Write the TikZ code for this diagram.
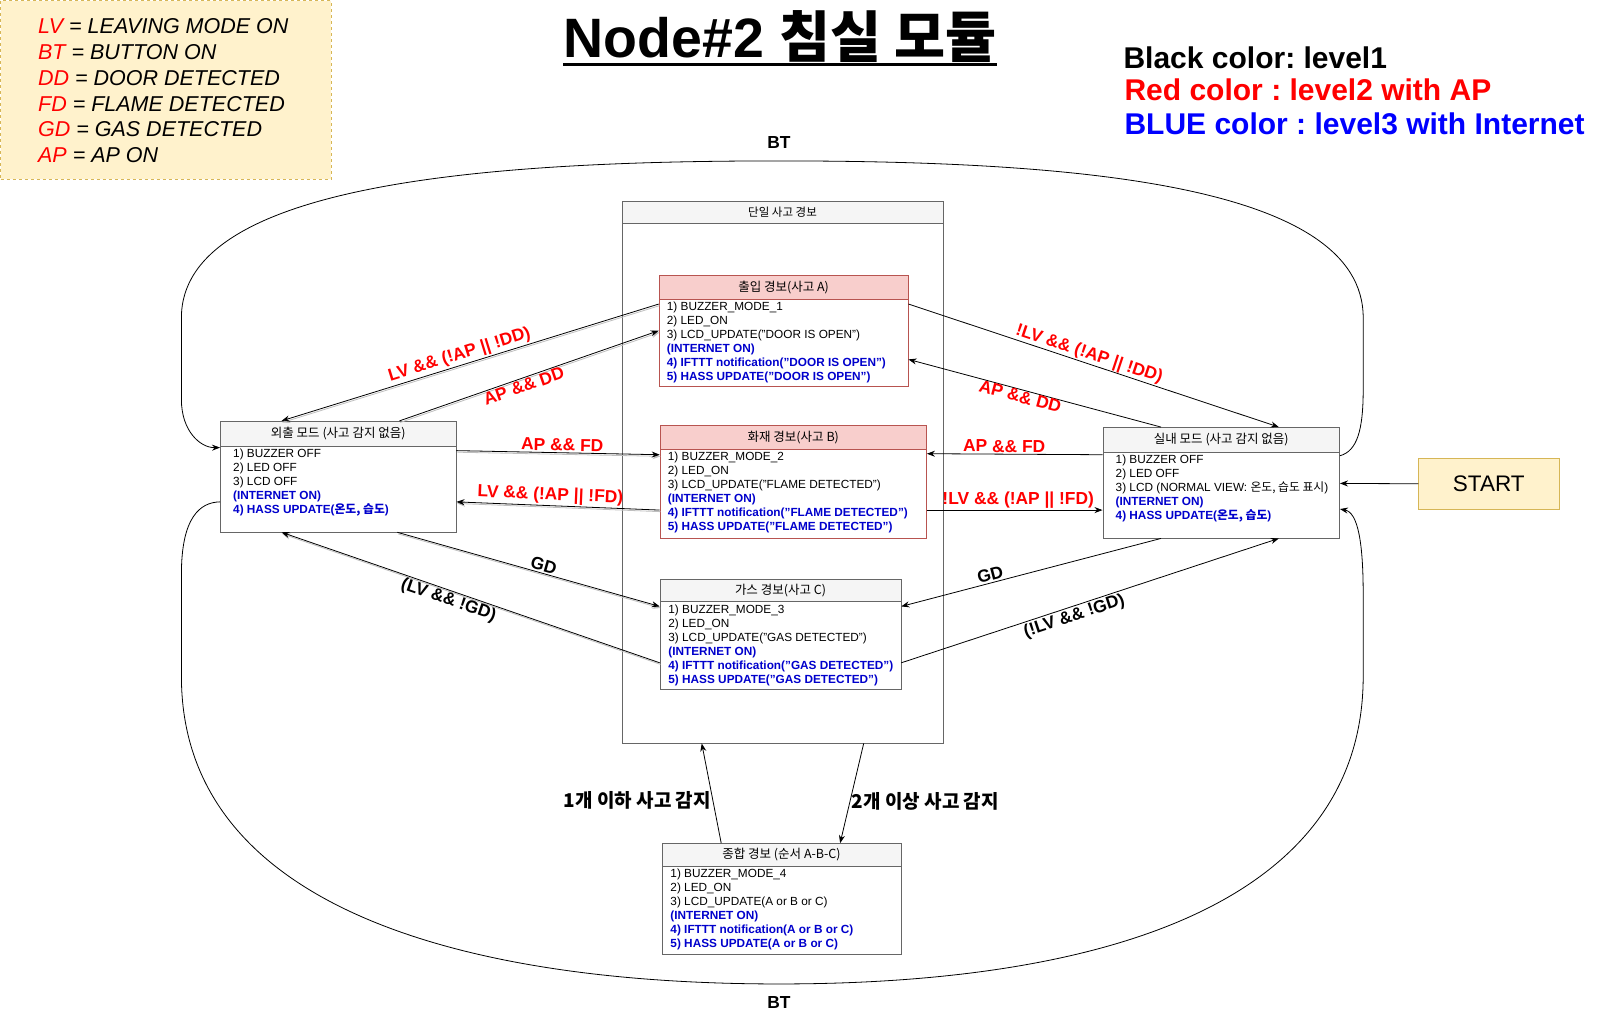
\documentclass[tikz,border=0pt]{standalone}
\usepackage{fontspec}
\setmainfont{Liberation Sans}
\newfontfamily\kr{Noto Sans CJK KR}
\usetikzlibrary{arrows.meta,fit,calc}
\frenchspacing

\definecolor{boxgray}{HTML}{666666}
\definecolor{headgray}{HTML}{F5F5F5}
\definecolor{alarmline}{HTML}{B85450}
\definecolor{alarmpink}{HTML}{F8CECC}
\definecolor{notepaper}{HTML}{FFF2CC}
\definecolor{noteline}{HTML}{D6B656}
\definecolor{netblue}{HTML}{0000CC}
\definecolor{labelred}{HTML}{FF0000}
\definecolor{legendblue}{HTML}{0000FF}

\newcommand{\inet}[1]{{\color{netblue}\bfseries #1}}
\newcommand{\abbr}[2]{{\color{labelred}#1} = #2}
\newcommand{\stateBox}[9]{
    \node[fit={(#2,#3) (#4,#5)}, #7body] (#1) {};
    \node[fit={(#2,#3) (#4,#6)}, #7head] (#1H) {};
    \node[headtext] (#1L) at (#1H.center) {#8};
    \node[#7text, anchor=north west] (#1T) at (#1H.south west) {#9};
}

\begin{document}
\begin{tikzpicture}[x=1.025pt, y=-1.025pt,
    boxbody/.style={draw=boxgray, fill=white, inner sep=0pt, line width=0.7pt},
    headtext/.style={font=\kr\fontsize{12.5}{12.5}\selectfont, inner sep=0pt},
    bodytext/.style={font=\fontsize{11.8}{14}\selectfont, align=left, inner sep=0pt},
    modebody/.style={boxbody},
    modehead/.style={boxbody, fill=headgray},
    modetext/.style={bodytext, xshift=13pt, yshift=-2.5pt},
    alarmbody/.style={boxbody, draw=alarmline},
    alarmhead/.style={alarmbody, fill=alarmpink},
    alarmtext/.style={bodytext, xshift=8pt, yshift=-2.5pt},
    plainbody/.style={boxbody},
    plainhead/.style={boxbody, fill=headgray},
    plaintext/.style={bodytext, xshift=8.5pt, yshift=-2.5pt},
    edge/.style={-{Stealth[length=8pt,width=6pt]}, line width=0.8pt},
    shadowed/.style={preaction={draw=black!25, line width=0.8pt, transform canvas={shift={(0.8pt,-1.6pt)}}}},
    redlab/.style={font=\fontsize{17.4}{17.4}\selectfont\bfseries, text=labelred, inner sep=1.5pt},
    blacklab/.style={font=\fontsize{17.4}{17.4}\selectfont\bfseries, inner sep=1.5pt},
    krlab/.style={font=\kr\fontsize{19}{19}\selectfont\bfseries, inner sep=1.5pt},
    btlab/.style={font=\fontsize{17.4}{17.4}\selectfont\bfseries, inner sep=0pt}
]
\useasboundingbox (0,0) rectangle (1563,986.3);

% Legend and title
\node[fit={(0.5,0.5) (323,175)}, draw=noteline, fill=notepaper, dashed, inner sep=0pt] (legend) {};
\node[anchor=north west, align=left, inner sep=0pt, font=\fontsize{21.5}{25.8}\selectfont\itshape] (legendT) at (37,18)
    {\abbr{LV}{LEAVING MODE ON}\\\abbr{BT}{BUTTON ON}\\\abbr{DD}{DOOR DETECTED}\\\abbr{FD}{FLAME DETECTED}\\\abbr{GD}{GAS DETECTED}\\\abbr{AP}{AP ON}};
\node[anchor=base, inner sep=0pt, font=\fontsize{55.5}{55.5}\selectfont\bfseries] (title) at (761,56) {Node\#2 {\kr 침실 모듈}};
\draw[line width=3pt] ($(title.base west)+(0,7)$) -- ($(title.base east)+(0,7)$);
\node[anchor=base west, inner sep=0pt, font=\fontsize{30}{30}\selectfont\bfseries] (lvlA) at (1096,67) {Black color: level1};
\node[anchor=base west, inner sep=0pt, font=\fontsize{30}{30}\selectfont\bfseries, text=labelred] (lvlB) at (1097,98) {Red color : level2 with AP};
\node[anchor=base west, inner sep=0pt, font=\fontsize{30}{30}\selectfont\bfseries, text=legendblue] (lvlC) at (1097,131) {BLUE color : level3 with Internet};

% Single accident container
\node[fit={(607,196) (920,725)}, boxbody] (single) {};
\node[fit={(607,196) (920,218)}, boxbody, fill=headgray] (singleH) {};
\node[headtext, font=\kr\fontsize{11.5}{11.5}\selectfont] (singleL) at (singleH.center) {단일 사고 경보};

% Mode boxes
\stateBox{away}{215}{411}{445}{519}{435}{mode}{외출 모드 (사고 감지 없음)}
    {1) BUZZER OFF\\2) LED OFF\\3) LCD OFF\\\inet{(INTERNET ON)}\\\inet{4) HASS UPDATE({\kr 온도, 습도})}}
\stateBox{home}{1076}{417}{1307}{525}{441}{mode}{실내 모드 (사고 감지 없음)}
    {1) BUZZER OFF\\2) LED OFF\\3) LCD (NORMAL VIEW: {\kr 온도, 습도 표시})\\\inet{(INTERNET ON)}\\\inet{4) HASS UPDATE({\kr 온도, 습도})}}

% Accident boxes
\stateBox{door}{643}{269}{886}{377}{292}{alarm}{출입 경보(사고 A)}
    {1) BUZZER\_MODE\_1\\2) LED\_ON\\3) LCD\_UPDATE("DOOR IS OPEN")\\\inet{(INTERNET ON)}\\\inet{4) IFTTT notification("DOOR IS OPEN")}\\\inet{5) HASS UPDATE("DOOR IS OPEN")}}
\stateBox{fire}{644}{415}{904}{525}{438}{alarm}{화재 경보(사고 B)}
    {1) BUZZER\_MODE\_2\\2) LED\_ON\\3) LCD\_UPDATE("FLAME DETECTED")\\\inet{(INTERNET ON)}\\\inet{4) IFTTT notification("FLAME DETECTED")}\\\inet{5) HASS UPDATE("FLAME DETECTED")}}
\stateBox{gas}{644}{565}{879}{673}{587}{plain}{가스 경보(사고 C)}
    {1) BUZZER\_MODE\_3\\2) LED\_ON\\3) LCD\_UPDATE("GAS DETECTED")\\\inet{(INTERNET ON)}\\\inet{4) IFTTT notification("GAS DETECTED")}\\\inet{5) HASS UPDATE("GAS DETECTED")}}
\stateBox{multi}{646}{823}{879}{931}{845}{plain}{종합 경보 (순서 A-B-C)}
    {1) BUZZER\_MODE\_4\\2) LED\_ON\\3) LCD\_UPDATE(A or B or C)\\\inet{(INTERNET ON)}\\\inet{4) IFTTT notification(A or B or C)}\\\inet{5) HASS UPDATE(A or B or C)}}

% Start
\node[fit={(1384,447) (1521,497)}, draw=noteline, fill=notepaper, inner sep=0pt] (start) {};
\node[inner sep=0pt, font=\fontsize{22.5}{22.5}\selectfont] (startL) at (start.center) {START};
\draw[edge] (start.west) -- ($(home.north east)+(0,55)$);

% Away side transitions
\draw[edge, shadowed] ($(door.north west)+(0,28)$) -- node[redlab, sloped, above, pos=0.52] {LV \&\& (!AP || !DD)} ($(away.north west)+(60,0)$);
\draw[edge, shadowed] ($(away.north west)+(175,0)$) -- node[redlab, sloped, below, pos=0.47] {AP \&\& DD} ($(door.north west)+(0,54)$);
\draw[edge, shadowed] ($(away.north east)+(0,29)$) -- node[redlab, sloped, above, pos=0.52] {AP \&\& FD} ($(fire.north west)+(0,29)$);
\draw[edge, shadowed] ($(fire.north west)+(0,83)$) -- node[redlab, sloped, above, pos=0.54] {LV \&\& (!AP || !FD)} ($(away.north east)+(0,79)$);
\draw[edge, shadowed] ($(away.south west)+(173,0)$) -- node[blacklab, sloped, above, pos=0.55] {GD} ($(gas.north west)+(0,27)$);
\draw[edge, shadowed] ($(gas.north west)+(0,82)$) -- node[blacklab, sloped, below, pos=0.55] {(LV \&\& !GD)} ($(away.south west)+(60,0)$);

% Home side transitions
\draw[edge] ($(door.north east)+(0,28)$) -- node[redlab, sloped, above, pos=0.48, inner sep=0.5pt] {!LV \&\& (!AP || !DD)} ($(home.north west)+(172,0)$);
\draw[edge] ($(home.north west)+(57,0)$) -- node[redlab, sloped, below, pos=0.55, inner sep=0.5pt] {AP \&\& DD} ($(door.north east)+(0,82)$);
\draw[edge] ($(home.north west)+(0,27)$) -- node[redlab, sloped, above, pos=0.56] {AP \&\& FD} ($(fire.north east)+(0,28)$);
\draw[edge] ($(fire.north east)+(0,83)$) -- node[redlab, sloped, above, pos=0.52] {!LV \&\& (!AP || !FD)} ($(home.north west)+(0,81)$);
\draw[edge] ($(home.south west)+(57,0)$) -- node[blacklab, sloped, above, pos=0.65] {GD} ($(gas.north east)+(0,27)$);
\draw[edge] ($(gas.north east)+(0,82)$) -- node[blacklab, sloped, below, pos=0.45] {(!LV \&\& !GD)} ($(home.south west)+(172,0)$);

% Single / multi accident
\draw[edge] ($(single.south west)+(236,0)$) -- node[krlab, right, pos=0.58] {2개 이상 사고 감지} ($(multi.north west)+(174,0)$);
\draw[edge] ($(multi.north west)+(58,0)$) -- node[krlab, left, pos=0.43] {1개 이하 사고 감지} ($(single.south west)+(78,0)$);

% BT loops
\draw[edge] ($(home.north east)+(0,28)$) .. controls (1324,440) and (1330,420) .. (1330,380) -- (1330,310)
    .. controls (1330,180) and (1050,157) .. (760,157) node[btlab, above=12pt] {BT}
    .. controls (470,157) and (177,180) .. (177,310) -- (177,390)
    .. controls (177,420) and (195,437) .. ($(away.north west)+(0,26)$);
\draw[edge] ($(away.north west)+(0,79)$) .. controls (195,490) and (177,505) .. (177,560) -- (177,660)
    .. controls (177,880) and (440,960) .. (760,960) node[btlab, below=12pt] {BT}
    .. controls (1080,960) and (1330,880) .. (1330,660) -- (1330,580)
    .. controls (1330,530) and (1325,500) .. ($(home.north east)+(0,80)$);

\end{tikzpicture}
\end{document}
